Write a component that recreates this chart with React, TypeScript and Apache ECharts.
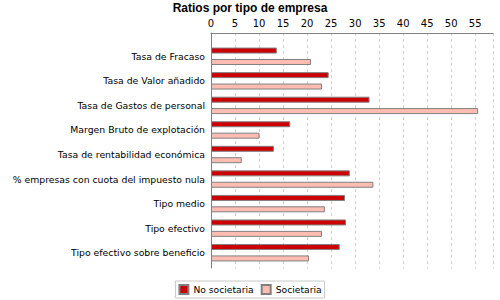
import React, { useEffect, useRef } from "react";
import * as echarts from "echarts";

const categories = [
  "Tasa de Fracaso",
  "Tasa de Valor añadido",
  "Tasa de Gastos de personal",
  "Margen Bruto de explotación",
  "Tasa de rentabilidad económica",
  "% empresas con cuota del impuesto nula",
  "Tipo medio",
  "Tipo efectivo",
  "Tipo efectivo sobre beneficio",
];
const noSocietaria = [13.7, 24.5, 33.0, 16.5, 13.1, 28.9, 27.9, 28.1, 26.8];
const societaria = [20.8, 23.1, 55.6, 10.1, 6.4, 33.8, 23.7, 23.1, 20.4];
const seriesNames = ["No societaria", "Societaria"];
const xMax = 58.7;

const FONT = "DejaVu Sans";

export default function App() {
  const ref = useRef<HTMLDivElement>(null);
  useEffect(() => {
    if (!ref.current) return;
    const chart = echarts.init(ref.current, null, { renderer: "svg" });
    chart.setOption({
      animation: false,
      backgroundColor: "#ffffff",
      title: {
        text: "Ratios por tipo de empresa",
        left: "center",
        top: 2,
        padding: 0,
        textStyle: { fontFamily: "Liberation Sans", fontSize: 12, fontWeight: "bold", color: "#000" },
      },
      legend: {
        bottom: 2,
        left: "center",
        itemWidth: 9,
        itemHeight: 9,
        itemGap: 7,
        padding: [3, 3, 3, 3],
        borderColor: "#c8c8c8",
        borderWidth: 1,
        textStyle: { fontFamily: FONT, fontSize: 9.2, color: "#000" },
        data: seriesNames.map((n) => ({ name: n, icon: "rect" })),
      },
      grid: [
        { left: 211, right: 7, top: 33, bottom: 32, outerBoundsMode: "none", containLabel: false },
        { left: 211, right: 7, top: 44, bottom: 35, outerBoundsMode: "none", containLabel: false },
      ],
      xAxis: [
        {
          gridIndex: 0,
          type: "value",
          position: "top",
          min: 0,
          max: xMax,
          interval: 5,
          axisLine: { show: true, lineStyle: { color: "#808080" } },
          axisTick: { show: false },
          axisLabel: { fontFamily: FONT, fontSize: 10, color: "#000", margin: 5, showMaxLabel: false },
          splitLine: { show: true, lineStyle: { color: "#d0d0d0", type: [3, 3] } },
        },
        { gridIndex: 1, type: "value", min: 0, max: xMax, show: false },
      ],
      yAxis: [
        {
          gridIndex: 0,
          type: "category",
          data: [""],
          axisLine: { show: true, lineStyle: { color: "#808080" } },
          axisTick: { show: false },
          axisLabel: { show: false },
        },
        {
          gridIndex: 1,
          type: "category",
          inverse: true,
          data: categories,
          axisLine: { show: false },
          axisTick: { show: false },
          axisLabel: { fontFamily: FONT, fontSize: 9.3, color: "#000", margin: 6 },
        },
      ],
      series: [
        {
          name: seriesNames[0],
          type: "bar",
          xAxisIndex: 1,
          yAxisIndex: 1,
          data: noSocietaria,
          barWidth: 6,
          barGap: "90%",
          itemStyle: { color: "#cc0000", borderColor: "#808080", borderWidth: 1 },
        },
        {
          name: seriesNames[1],
          type: "bar",
          xAxisIndex: 1,
          yAxisIndex: 1,
          data: societaria,
          barWidth: 6,
          itemStyle: { color: "#ffbcb2", borderColor: "#808080", borderWidth: 1 },
        },
      ],
    });
    return () => chart.dispose();
  }, []);
  return <div ref={ref} style={{ width: 500, height: 300, position: "absolute", left: 0, top: 0 }} />;
}
